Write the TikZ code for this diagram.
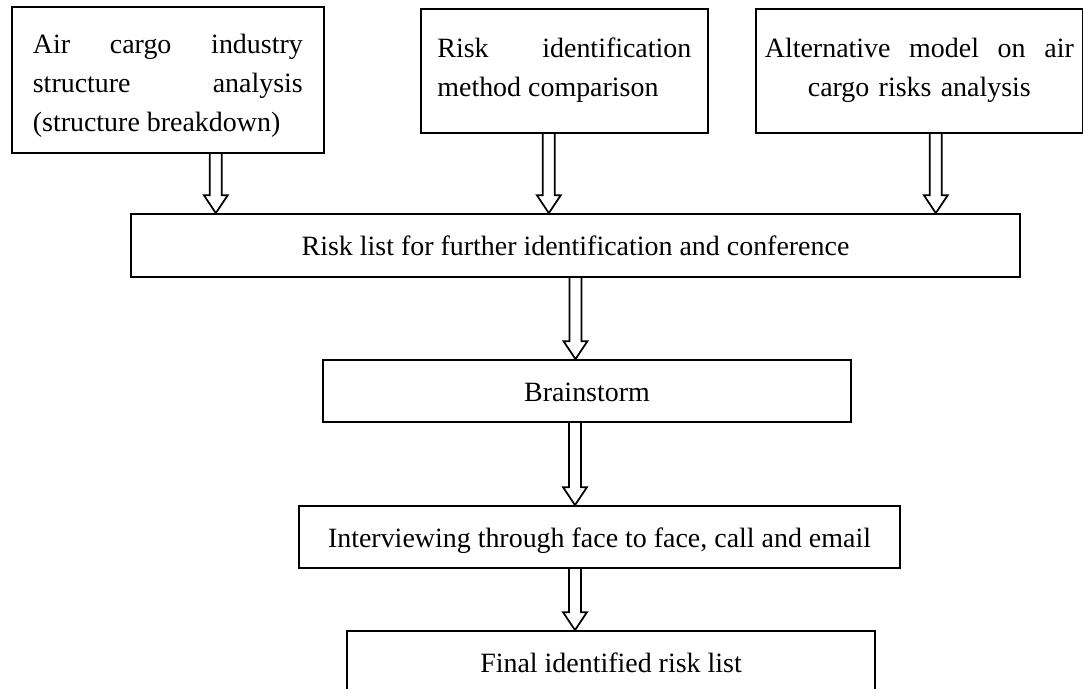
\documentclass[tikz,border=0pt]{standalone}
\usepackage{fontspec}
\setmainfont{Liberation Serif}
\usetikzlibrary{calc}

\begin{document}
\begin{tikzpicture}[x=0.02cm, y=-0.02cm, line width=1pt, font=\fontsize{15.9pt}{22.2pt}\selectfont,
  topbox/.style = {draw, anchor=north west, align=justify, inner ysep=0pt, text height=0.98cm, text depth=1.5cm,
    execute at begin node={\hyphenpenalty=10000 \tolerance=9999 \pretolerance=-1}},
  listbox/.style = {draw, minimum height=1.24cm, text height=11.4pt, text depth=0pt},
  hollow/.style = {to path={let \p1=(\tikztostart), \p2=(\tikztotarget) in
    (\x1-0.12cm,\y1) -- (\x1-0.12cm,\y2+0.36cm) -- (\x1-0.24cm,\y2+0.36cm) -- (\x1,\y2)
    -- (\x1+0.24cm,\y2+0.36cm) -- (\x1+0.12cm,\y2+0.36cm) -- (\x1+0.12cm,\y1)}}]
\useasboundingbox (0,0) rectangle (1083,689);
\node[topbox, text width=5.4cm, inner xsep=0.42cm, text height=0.94cm, text depth=1.98cm] (air) at (11,6) {Air cargo industry structure analysis (structure breakdown)};
\node[topbox, text width=5.08cm, inner xsep=0.33cm] (ident) at (420,8) {Risk identification method comparison};
\node[topbox, text width=6.18cm, inner xsep=0.18cm, align=center] (alt) at (755,8) {\makebox[6.18cm]{Alternative\hfill model\hfill on\hfill air}\\ cargo risks analysis};
\node[listbox, minimum width=17.78cm, minimum height=1.26cm] (risklist) at (575.5,245.5) {Risk list for further identification and conference};
\node[listbox, minimum width=10.56cm] (brain) at (587,391) {Brainstorm};
\node[listbox, minimum width=12.02cm] (interview) at (599.5,537) {Interviewing through face to face, call and email};
\node[listbox, minimum width=10.56cm] (final) at (611,662) {Final identified risk list};
% hollow arrows
\draw[hollow] ([xshift=0.96cm]air.south) to (risklist.north);
\draw[hollow] ([xshift=-0.31cm]ident.south) to (risklist.north);
\draw[hollow] ([xshift=0.33cm]alt.south) to (risklist.north);
\draw[hollow] (risklist.south) to (brain.north);
\draw[hollow] ([xshift=-0.24cm]brain.south) to (interview.north);
\draw[hollow] ([xshift=-0.49cm]interview.south) to (final.north);
\end{tikzpicture}
\end{document}
